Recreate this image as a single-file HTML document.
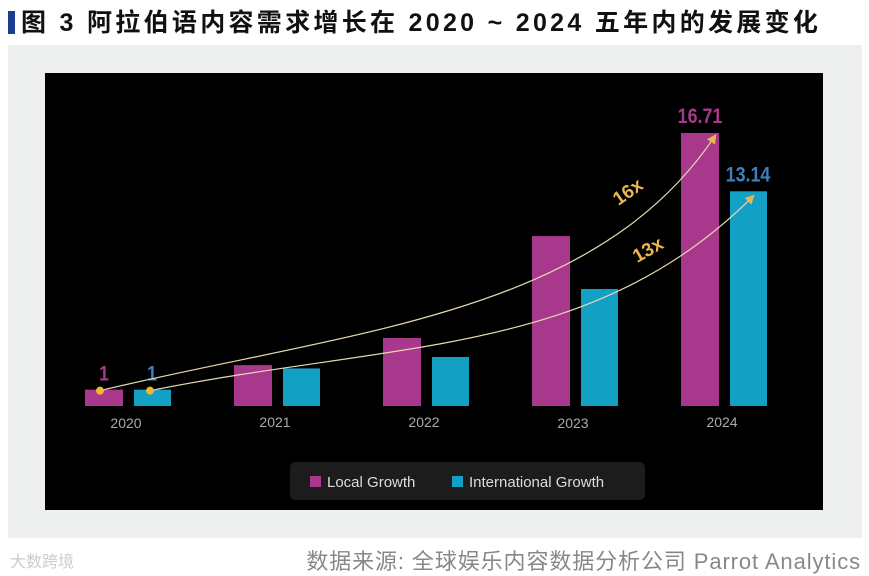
<!DOCTYPE html>
<html><head><meta charset="utf-8"><style>
body{margin:0;width:869px;height:576px;background:#fff;font-family:"Liberation Sans","Noto Sans CJK SC",sans-serif;position:relative;overflow:hidden}
.t{position:absolute;left:8px;top:3px;font-size:25px;letter-spacing:3.3px;font-weight:bold;color:#111;white-space:nowrap}
.bar0{display:inline-block;width:7px;height:23px;background:#1a3f8f;vertical-align:-3px;margin-right:6px}
.src{position:absolute;right:8px;top:544px;font-size:22px;letter-spacing:0.9px;color:#888;white-space:nowrap}
.wm{position:absolute;left:10px;top:548px;font-size:16px;color:#ccc}
</style></head><body>
<div class="t"><span class="bar0"></span>图 3 阿拉伯语内容需求增长在 2020 ~ 2024 五年内的发展变化</div>
<div style="position:absolute;left:8px;top:45px;width:854px;height:493px;background:#eef0ef"></div>
<svg id="c" style="position:absolute;left:0;top:0" width="869" height="576">
<rect x="45" y="73" width="778" height="437" fill="#000"/>
<defs><marker id="ar" markerWidth="8" markerHeight="8" refX="6" refY="4" orient="auto"><path d="M0,0 L8,4 L0,8 Z" fill="#e8b84a"/></marker></defs>
</svg>
<div class="wm">大数跨境</div>
<div class="src">数据来源: 全球娱乐内容数据分析公司 Parrot Analytics</div>
<script>
const years=["2020","2021","2022","2023","2024"];
const local=[1,2.5,4.16,10.4,16.71];
const intl=[1,2.3,3.0,7.16,13.14];
const ns="http://www.w3.org/2000/svg";
const svg=document.getElementById('c');
const base=406,k=16.34;
const y=v=>base-v*k;
const cx=i=>128+i*149;
function el(t,a,p){const e=document.createElementNS(ns,t);for(const q in a)e.setAttribute(q,a[q]);(p||svg).appendChild(e);return e;}
years.forEach((yr,i)=>{
 const b1=el('rect',{x:cx(i)-43,y:y(local[i]),width:38,height:local[i]*k,fill:'#a8388c'});
 
 
 const b2=el('rect',{x:cx(i)+6,y:y(intl[i]),width:37,height:intl[i]*k,fill:'#12a0c4'});
 
 
 const t=el('text',{x:cx(i)-2,y:i==0?428:i==3?428:427,'text-anchor':'middle',fill:'#aaa','font-size':14});
 t.textContent=yr;
 
 
});
function lab(txt,x,yy,col){const t=el('text',{x:x,y:yy,'text-anchor':'middle',fill:col,'font-size':21,'font-weight':'bold',transform:`translate(${x},0) scale(0.85,1) translate(${-x},0)`});t.textContent=txt;return t;}
let l;
l=lab(String(local[0]),cx(0)-24,y(local[0])-9,'#a8388c');
l=lab(String(intl[0]),cx(0)+24,y(intl[0])-9,'#3f7fc0');
l=lab(String(local[4]),cx(4)-24,y(local[4])-10,'#a8388c');
l=lab(String(intl[4]),cx(4)+24,y(intl[4])-10,'#3f7fc0');
const x0=cx(0)-28,y0=y(local[0])+1,x1=cx(4)-9,y1=y(local[4])+3;
let p=el('path',{d:`M${x0},${y0} C${x0+250},${y0-60} ${x1-120},${y1+180} ${x1},${y1}`,stroke:'#e8d8b0','stroke-width':1.2,fill:'none','marker-end':'url(#ar)'});

const x2=cx(0)+22,y2=y(intl[0])+1,x3=cx(4)+29,y3=y(intl[4])+5;
p=el('path',{d:`M${x2},${y2} C${x2+250},${y2-50} ${x3-160},${y3+160} ${x3},${y3}`,stroke:'#e8d8b0','stroke-width':1.2,fill:'none','marker-end':'url(#ar)'});

[[x0,y0],[x2,y2]].forEach(([a,b])=>el('circle',{cx:a,cy:b,r:4,fill:'#f0b830'}));
let g=el('text',{x:628,y:198,fill:'#e8b84a','font-size':19,'font-weight':'bold',transform:'rotate(-35 628 192)','text-anchor':'middle'});g.textContent='16x';

g=el('text',{x:648,y:256,fill:'#e8b84a','font-size':19,'font-weight':'bold',transform:'rotate(-30 648 250)','text-anchor':'middle'});g.textContent='13x';

const lg=el('g',{});

el('rect',{x:290,y:462,width:355,height:38,rx:5,fill:'#1c1c1c'},lg);
el('rect',{x:310,y:476,width:11,height:11,fill:'#a8388c'},lg);
let tt=el('text',{x:327,y:487,fill:'#ddd','font-size':15},lg);tt.textContent='Local Growth';
el('rect',{x:452,y:476,width:11,height:11,fill:'#12a0c4'},lg);
tt=el('text',{x:469,y:487,fill:'#ddd','font-size':15},lg);tt.textContent='International Growth';
</script>
</body></html>
